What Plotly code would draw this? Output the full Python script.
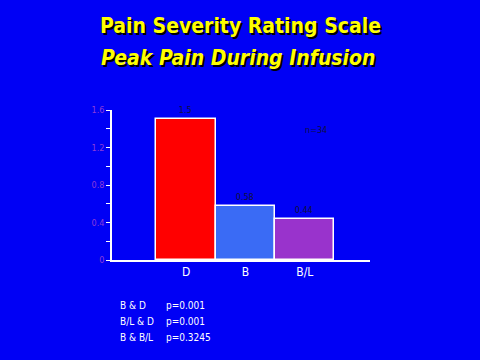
import plotly.graph_objects as go

categories = ["D", "B", "B/L"]
values = [1.5, 0.58, 0.44]
value_labels = ["1.5", "0.58", "0.44"]
bar_colors = ["#FF0000", "#3A6BF5", "#9933CC"]
y_ticks = [0, 0.4, 0.8, 1.2, 1.6]
y_tick_labels = ["0", "0.4", "0.8", "1.2", "1.6"]
stats_lines = [("B & D", "p=0.001"), ("B/L & D", "p=0.001"), ("B & B/L", "p=0.3245")]
title1 = "Pain Severity Rating Scale"
title2 = "Peak Pain During Infusion"
n_note = "n=34"

NARROW = "DejaVu Sans Condensed, Liberation Sans Narrow, Arial Narrow, sans-serif"
BG = "#0000F5"

fig = go.Figure()
fig.add_trace(go.Bar(
    x=categories, y=values,
    marker=dict(color=bar_colors, line=dict(color="white", width=1.5)),
    text=value_labels, textposition="outside",
    textfont=dict(family=NARROW, size=9, color="#101040"),
    cliponaxis=False,
))

fig.update_layout(
    width=480, height=360,
    paper_bgcolor=BG, plot_bgcolor=BG,
    margin=dict(l=112, r=110, t=110, b=100),
    bargap=0, showlegend=False,
    xaxis=dict(range=[-1.25, 3.1], showgrid=False, zeroline=False,
               showline=True, linecolor="white", linewidth=1.5,
               ticks="", tickfont=dict(family=NARROW, size=12, color="white")),
    yaxis=dict(range=[0, 1.6], showgrid=False, zeroline=False,
               showline=True, linecolor="white", linewidth=1.5,
               tickvals=y_ticks, ticktext=y_tick_labels,
               ticks="outside", ticklen=4, tickcolor="white",
               tickfont=dict(family=NARROW, size=9, color="#8A3BD8"),
               minor=dict(ticks="outside", dtick=0.2, ticklen=4, tickcolor="white")),
)

# Titles with drop shadow
for txt, cx, y, style, size in [(title1, 240, 26, "normal", 21), (title2, 238, 58, "italic", 21)]:
    fig.add_annotation(text=txt, xref="paper", yref="paper", x=0.5, y=1,
                       xanchor="center", yanchor="middle",
                       xshift=cx - (112 + (480 - 222) / 2),
                       yshift=110 - y,
                       showarrow=False,
                       font=dict(family=NARROW, size=size, color="#FFFF00",
                                 weight="bold", style=style,
                                 shadow="2px 2px 0px black"))

fig.add_annotation(text=n_note, xref="x", yref="y", x=2.19, y=1.39,
                   showarrow=False, font=dict(family=NARROW, size=9, color="#101040"))

for i, (a, b) in enumerate(stats_lines):
    y = 305 + i * 16
    fig.add_annotation(text=a, xref="paper", yref="paper", x=0, y=0,
                       xanchor="left", yanchor="middle",
                       xshift=118 - 112, yshift=-(y - 260),
                       showarrow=False, font=dict(family=NARROW, size=10, color="white"))
    fig.add_annotation(text=b, xref="paper", yref="paper", x=0, y=0,
                       xanchor="left", yanchor="middle",
                       xshift=164 - 112, yshift=-(y - 260),
                       showarrow=False, font=dict(family=NARROW, size=10, color="white"))

fig.write_html("out.html", config={"displayModeBar": False},
               post_script="document.body.style.margin='0';")
